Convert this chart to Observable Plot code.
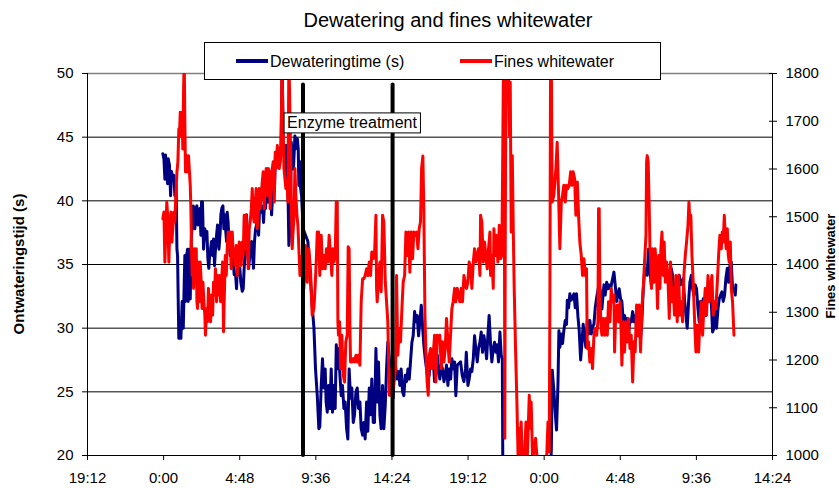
<!DOCTYPE html>
<html>
<head>
<meta charset="utf-8">
<script src="https://cdn.jsdelivr.net/npm/d3@7"></script>
<script src="https://cdn.jsdelivr.net/npm/@observablehq/plot@0.6"></script>
<style>
  body { margin: 0; background: #fff; }
  #chart { width: 839px; height: 488px; }
</style>
</head>
<body>
<div id="chart"></div>
<script>
const FONT = '"Liberation Sans", Arial, Helvetica, sans-serif';

// ---- texts ----
const chartTitle = "Dewatering and fines whitewater";
const leftAxisTitle = "Ontwateringstijd (s)";
const rightAxisTitle = "Fines whitewater";
const seriesNames = ["Dewateringtime (s)", "Fines whitewater"];
const seriesColors = ["#000080", "#ff0000"];

// ---- axes (time in hours since midnight of day 1) ----
const xDomain = [19.2, 62.4];
const xTickHours = [19.2, 24, 28.8, 33.6, 38.4, 43.2, 48, 52.8, 57.6, 62.4];
const xTickLabels = ["19:12", "0:00", "4:48", "9:36", "14:24", "19:12", "0:00", "4:48", "9:36", "14:24"];
const leftDomain = [20, 50];
const leftTicks = [20, 25, 30, 35, 40, 45, 50];
const finesDomain = [1000, 1800];
const finesTicks = [1000, 1100, 1200, 1300, 1400, 1500, 1600, 1700, 1800];

// ---- annotation ----
const enzymeHours = [32.79, 38.44];
const enzymeLineTop = 49.1;
const enzymeLabel = [{hour: 35.88, value: 46.09, text: "Enzyme treatment"}];

// ---- series: [hour, dewatering time (s)] ----
const dewatering = [
[23.95,43.7],[24.02,43.3],[24.08,41.7],[24.12,43.6],[24.18,42.5],[24.25,41.35],[24.29,43.3],[24.37,42.8],[24.44,40.4],[24.50,42.3],[24.58,41.7],[24.65,42.0],[24.71,40.4],[24.75,41.5],[24.79,41.2],[24.84,36.2],[24.88,35.7],[24.92,32.3],[24.96,29.2],[25.02,30.0],[25.09,29.2],[25.17,32.1],[25.24,30.0],[25.30,33.6],[25.34,35.7],[25.38,32.1],[25.45,35.7],[25.51,36.2],[25.55,32.1],[25.61,36.2],[25.68,32.3],[25.74,36.8],[25.80,38.1],[25.87,39.6],[25.93,38.9],[25.97,37.8],[26.03,39.4],[26.10,39.6],[26.16,38.1],[26.22,38.9],[26.29,39.4],[26.35,37.3],[26.39,39.9],[26.45,39.9],[26.52,36.2],[26.60,37.8],[26.66,37.0],[26.73,37.6],[26.79,35.5],[26.85,34.7],[26.90,35.7],[26.96,36.2],[27.02,36.8],[27.09,35.7],[27.15,37.0],[27.21,34.9],[27.27,36.2],[27.34,37.3],[27.40,38.1],[27.44,36.8],[27.49,36.2],[27.57,37.6],[27.61,38.9],[27.67,39.4],[27.74,39.6],[27.80,37.8],[27.86,38.9],[27.91,37.8],[27.97,36.8],[28.01,39.1],[28.07,38.3],[28.12,36.8],[28.20,35.7],[28.28,36.8],[28.37,35.7],[28.45,34.2],[28.54,34.2],[28.60,33.1],[28.66,35.2],[28.75,34.2],[28.81,34.7],[28.87,33.6],[28.96,32.9],[29.02,33.1],[29.08,34.7],[29.13,35.7],[29.17,37.8],[29.23,38.9],[29.29,37.3],[29.36,34.7],[29.42,35.5],[29.48,35.7],[29.55,36.8],[29.61,35.7],[29.67,34.7],[29.73,36.8],[29.80,37.8],[29.86,38.1],[29.92,38.9],[29.99,37.3],[30.05,39.4],[30.11,39.1],[30.18,39.4],[30.24,39.6],[30.30,38.3],[30.37,39.9],[30.43,39.4],[30.49,41.0],[30.55,39.9],[30.64,39.9],[30.68,40.2],[30.74,41.0],[30.81,38.9],[30.85,39.9],[30.93,41.0],[30.99,41.0],[31.06,43.8],[31.12,43.1],[31.19,43.6],[31.27,44.1],[31.33,43.1],[31.40,44.35],[31.44,47.8],[31.48,51],[31.54,44.35],[31.61,43.6],[31.67,44.35],[31.71,41.7],[31.77,44.35],[31.84,41.0],[31.90,36.5],[31.94,37.3],[32.01,40.4],[32.05,44.6],[32.11,43.6],[32.19,42.5],[32.28,45.1],[32.36,44.1],[32.43,44.9],[32.49,44.1],[32.53,41.2],[32.57,43.1],[32.64,41.0],[32.70,40.4],
[32.80,37.8],[32.95,37.3],[33.10,36.8],[33.22,34.7],[33.35,32.1],[33.48,30.0],[33.58,26.8],[33.69,24.7],[33.79,22.1],[33.85,22.25],[33.94,25.5],[34.02,27.6],[34.11,25.3],[34.19,26.8],[34.25,24.2],[34.32,23.4],[34.40,25.5],[34.49,23.7],[34.57,26.8],[34.65,23.4],[34.74,25.5],[34.82,23.7],[34.89,28.7],[34.95,26.8],[35.03,28.4],[35.12,26.3],[35.20,24.7],[35.28,25.5],[35.37,23.7],[35.45,24.2],[35.54,22.1],[35.62,21.3],[35.70,26.8],[35.79,24.5],[35.87,25.3],[35.96,22.6],[36.04,23.2],[36.13,25.0],[36.21,25.3],[36.29,23.7],[36.38,24.2],[36.46,22.1],[36.55,21.6],[36.63,22.6],[36.71,21.3],[36.80,24.2],[36.88,21.9],[36.97,25.3],[37.05,23.2],[37.13,26.0],[37.22,22.6],[37.30,22.6],[37.39,28.4],[37.47,24.2],[37.55,27.35],[37.64,23.2],[37.72,22.1],[37.81,25.5],[37.89,22.1],[37.98,24.0],[38.06,26.8],[38.14,28.9],[38.23,27.6],[38.35,26.8],[38.48,24.5],[38.56,27.35],[38.65,26.8],[38.73,26.0],[38.82,26.6],[38.90,25.5],[38.98,26.8],[39.07,25.0],[39.15,24.7],[39.24,26.3],[39.32,25.8],[39.41,26.8],[39.49,26.0],[39.57,27.35],[39.66,28.9],[39.74,29.4],[39.83,31.3],[39.91,30.5],[39.99,31.0],[40.08,29.4],[40.16,30.5],[40.25,31.8],[40.33,30.2],[40.41,28.7],[40.50,27.6],[40.58,26.8],[40.67,26.0],[40.75,26.3],[40.84,28.1],[40.92,27.35],[41.00,27.6],[41.09,25.8],[41.17,26.3],[41.26,27.9],[41.34,26.8],[41.42,26.0],[41.51,27.1],[41.59,26.8],[41.68,25.8],[41.76,26.3],[41.84,27.1],[41.93,25.5],[42.01,26.8],[42.10,26.0],[42.18,27.6],[42.27,26.8],[42.35,27.35],[42.43,24.7],[42.52,27.1],
[42.73,27.35],[42.83,26.3],[42.94,25.8],[43.04,26.8],[43.09,28.1],[43.19,25.5],[43.27,26.0],[43.36,26.8],[43.44,26.6],[43.53,27.6],[43.61,29.4],[43.69,28.4],[43.78,27.35],[43.86,28.4],[43.95,28.9],[44.03,29.7],[44.11,28.1],[44.20,29.4],[44.28,28.7],[44.37,27.6],[44.45,29.4],[44.53,31.0],[44.62,28.7],[44.70,27.35],[44.79,28.4],[44.87,28.9],[44.96,28.1],[45.04,28.7],[45.12,27.35],[45.21,29.7],[45.29,27.9],[45.36,27.6],[45.40,17],[48.34,17],
[48.45,20.4],[48.51,26.7],[48.61,25.1],[48.72,23.0],[48.78,22.0],[48.87,25.6],[48.93,29.8],[48.99,28.5],[49.08,29.55],[49.16,28.8],[49.24,29.8],[49.33,30.6],[49.41,30.3],[49.46,32.2],[49.54,31.6],[49.62,32.7],[49.71,32.2],[49.79,32.4],[49.88,32.7],[49.96,31.6],[50.04,32.7],[50.13,30.9],[50.21,29.8],[50.30,27.5],[50.38,28.8],[50.46,30.3],[50.55,29.3],[50.63,28.5],[50.72,30.6],[50.80,29.55],[50.88,30.6],[50.97,29.55],[51.05,30.1],[51.14,30.3],[51.22,31.6],[51.31,32.4],[51.39,32.95],[51.47,33.5],[51.56,32.7],
[51.64,31.5],[51.77,33.4],[51.85,32.6],[51.94,33.6],[52.02,33.1],[52.10,33.4],[52.19,33.1],[52.27,33.6],[52.36,34.15],[52.40,34.4],[52.48,33.4],[52.57,32.1],[52.65,32.6],[52.73,33.1],[52.82,32.3],[52.90,32.1],[52.99,30.5],[53.07,31.0],[53.15,30.5],[53.24,30.75],[53.32,29.7],[53.41,30.5],[53.49,30.5],[53.58,31.3],[53.66,30.5],[53.74,31.0],[53.83,30.0],[53.91,29.4],[53.99,29.7],[54.08,29.2],[54.16,30.5],[54.25,33.1],[54.33,34.4],[54.42,34.7],[54.50,34.15],[54.58,36.2],[54.67,34.7],[54.75,33.4],[54.84,33.6],[54.92,34.15],[55.00,35.7],[55.09,35.2],[55.17,33.6],[55.26,34.7],[55.34,35.2],[55.43,34.7],[55.51,35.7],[55.59,35.2],[55.68,34.7],[55.76,34.4],[55.85,34.15],[55.93,33.6],[56.01,34.7],[56.10,34.15],[56.18,33.1],[56.27,32.1],[56.35,32.6],[56.43,33.6],[56.52,34.15],[56.60,33.4],[56.69,33.6],[56.77,33.9],[56.86,32.1],[56.94,31.0],[57.02,30.0],[57.11,32.1],[57.19,33.6],[57.28,34.15],[57.36,33.1],[57.44,32.6],[57.53,33.4],[57.61,33.1],[57.70,31.5],[57.78,30.5],[57.86,32.1],[57.95,31.5],[58.03,32.3],[58.12,31.5],[58.20,31.0],[58.29,33.1],[58.37,32.6],[58.45,33.6],[58.54,32.1],[58.62,29.7],[58.71,30.0],[58.79,31.3],[58.87,30.0],[58.96,31.5],[59.04,32.3],[59.13,32.6],[59.21,32.85],[59.29,32.1],[59.38,32.6],[59.46,33.9],[59.55,34.7],[59.63,33.6],[59.71,34.9],[59.80,35.2],[59.88,33.1],[59.97,33.1],[60.05,32.6],[60.09,33.4]
];

// ---- series: [hour, fines whitewater] ----
const fines = [
[23.95,1496],[24.02,1510],[24.08,1405],[24.14,1475],[24.20,1531],[24.27,1496],[24.33,1405],[24.39,1475],[24.46,1510],[24.52,1447],[24.58,1475],[24.65,1510],[24.71,1489],[24.77,1545],[24.84,1594],[24.90,1615],[24.96,1684],[25.00,1670],[25.05,1719],[25.11,1670],[25.17,1719],[25.21,1642],[25.26,1768],[25.30,1830],[25.34,1698],[25.38,1594],[25.42,1615],[25.47,1628],[25.51,1594],[25.57,1628],[25.63,1594],[25.68,1566],[25.72,1517],[25.76,1433],[25.80,1377],[25.85,1433],[25.89,1350],[25.93,1433],[25.97,1377],[26.01,1363],[26.06,1433],[26.10,1322],[26.14,1308],[26.18,1405],[26.24,1322],[26.31,1405],[26.37,1363],[26.43,1308],[26.48,1363],[26.54,1322],[26.60,1294],[26.64,1252],[26.71,1308],[26.77,1280],[26.83,1350],[26.90,1294],[26.96,1280],[27.02,1336],[27.09,1294],[27.15,1363],[27.21,1336],[27.27,1391],[27.34,1322],[27.40,1377],[27.46,1336],[27.53,1377],[27.59,1322],[27.65,1363],[27.72,1405],[27.78,1259],[27.82,1322],[27.89,1419],[27.95,1377],[28.01,1433],[28.07,1468],[28.14,1433],[28.20,1468],[28.26,1391],[28.33,1468],[28.39,1419],[28.45,1433],[28.52,1398],[28.58,1440],[28.64,1377],[28.71,1419],[28.77,1447],[28.83,1419],[28.89,1398],[28.96,1447],[29.02,1419],[29.08,1503],[29.15,1433],[29.21,1503],[29.27,1447],[29.34,1391],[29.40,1475],[29.46,1489],[29.53,1517],[29.59,1559],[29.65,1503],[29.71,1489],[29.78,1531],[29.84,1559],[29.90,1475],[29.97,1503],[30.03,1559],[30.09,1517],[30.16,1545],[30.22,1573],[30.28,1594],[30.35,1517],[30.41,1580],[30.47,1601],[30.54,1545],[30.60,1601],[30.66,1594],[30.72,1517],[30.79,1587],[30.85,1601],[30.91,1615],[30.98,1531],[31.04,1635],[31.10,1601],[31.17,1649],[31.23,1628],[31.29,1601],[31.36,1615],[31.42,1649],[31.46,1830],[31.52,1719],[31.59,1601],[31.65,1580],[31.71,1559],[31.78,1573],[31.84,1531],[31.90,1830],[31.94,1768],[31.99,1670],[32.05,1531],[32.11,1433],[32.15,1461],[32.22,1496],[32.28,1601],[32.34,1545],[32.41,1503],[32.47,1482],[32.53,1433],[32.60,1377],[32.66,1391],
[32.74,1419],[32.85,1350],[32.95,1440],[33.06,1363],[33.16,1433],[33.27,1384],[33.37,1294],[33.48,1308],[33.56,1356],[33.64,1419],[33.69,1468],[33.77,1468],[33.85,1377],[33.94,1461],[34.02,1391],[34.11,1419],[34.19,1391],[34.27,1433],[34.36,1405],[34.44,1461],[34.53,1419],[34.61,1377],[34.67,1433],[34.74,1405],[34.82,1419],[34.89,1531],[34.95,1531],[34.99,1280],[35.03,1252],[35.10,1280],[35.16,1182],[35.24,1252],[35.33,1168],[35.41,1154],[35.49,1238],[35.58,1252],[35.64,1437],[35.70,1433],[35.75,1266],[35.79,1196],[35.87,1196],[35.96,1203],[36.04,1196],[36.13,1210],[36.21,1196],[36.29,1210],[36.38,1189],[36.46,1322],[36.55,1370],[36.63,1370],[36.71,1377],[36.80,1391],[36.88,1377],[36.97,1405],[37.05,1377],[37.13,1426],[37.22,1412],[37.30,1419],[37.39,1503],[37.43,1350],[37.47,1322],[37.55,1363],[37.64,1405],[37.72,1343],[37.81,1503],[37.89,1489],[37.98,1363],[38.06,1322],[38.14,1280],[38.23,1126],[38.31,1126],[38.40,1182],[38.48,1140],[38.63,1182],[38.69,1377],[38.77,1210],[38.86,1266],[38.94,1238],[39.03,1308],[39.11,1363],[39.20,1377],[39.28,1468],[39.36,1419],[39.45,1468],[39.53,1384],[39.62,1468],[39.70,1412],[39.78,1468],[39.87,1461],[39.95,1468],[40.04,1433],[40.12,1475],[40.20,1489],[40.27,1601],[40.35,1627],[40.41,1517],[40.48,1294],[40.54,1217],[40.62,1154],[40.69,1126],[40.75,1210],[40.84,1224],[40.92,1182],[41.00,1210],[41.09,1252],[41.17,1154],[41.26,1252],[41.34,1238],[41.42,1252],[41.51,1182],[41.59,1238],[41.68,1196],[41.76,1224],[41.84,1287],[41.93,1238],[42.01,1196],
[42.18,1308],[42.26,1322],[42.35,1350],[42.43,1322],[42.52,1350],[42.60,1336],[42.68,1322],[42.77,1350],[42.85,1322],[42.94,1377],[43.02,1363],[43.10,1350],[43.19,1363],[43.27,1405],[43.36,1391],[43.44,1350],[43.53,1405],[43.61,1433],[43.69,1405],[43.78,1419],[43.86,1433],[43.95,1377],[43.99,1503],[44.07,1489],[44.16,1405],[44.24,1447],[44.32,1419],[44.41,1391],[44.49,1433],[44.58,1468],[44.62,1377],[44.70,1419],[44.79,1350],[44.83,1475],[44.91,1419],[45.00,1461],[45.08,1405],[45.17,1482],[45.25,1412],[45.33,1419],[45.38,1601],[45.42,1768],[45.46,1830],[45.50,1391],[45.52,1036],[45.54,1391],[45.59,1830],[45.67,1782],[45.73,1830],[45.80,1670],[45.86,1782],[45.92,1468],[45.99,1628],[46.05,1475],[46.11,1350],[46.20,1217],[46.28,1112],[46.36,990],[46.43,1057],[46.49,990],[46.55,1070],[46.62,990],[46.76,990],[46.85,1070],[46.93,990],[47.06,1126],[47.12,1057],[47.18,1112],[47.27,990],[47.46,1036],[47.56,990],[48.15,990],[48.24,1070],[48.32,1008],[48.36,1322],[48.40,1782],[48.45,1830],[48.51,1531],[48.61,1545],[48.74,1601],[48.82,1656],[48.91,1545],[48.99,1433],[49.08,1531],[49.16,1545],[49.24,1566],[49.33,1531],[49.41,1566],[49.50,1559],[49.58,1566],[49.67,1594],[49.75,1566],[49.83,1594],[49.92,1580],[50.00,1503],[50.09,1573],[50.17,1503],[50.25,1447],[50.34,1419],[50.42,1377],[50.51,1412],[50.59,1377],[50.67,1391],[50.72,1224],[50.80,1238],[50.88,1196],[50.97,1224],[51.05,1182],[51.14,1252],[51.22,1266],[51.31,1252],[51.39,1280],[51.43,1517],[51.47,1517],[51.52,1322],[51.60,1266],
[51.64,1252],[51.73,1287],[51.81,1252],[51.89,1287],[51.98,1252],[52.06,1322],[52.15,1280],[52.23,1350],[52.31,1322],[52.40,1336],[52.44,1217],[52.51,1294],[52.61,1315],[52.69,1280],[52.78,1322],[52.86,1252],[52.90,1189],[52.99,1280],[53.07,1217],[53.15,1280],[53.24,1238],[53.32,1287],[53.41,1224],[53.49,1252],[53.58,1154],[53.66,1238],[53.74,1217],[53.83,1315],[53.91,1252],[53.99,1315],[54.08,1217],[54.16,1308],[54.25,1350],[54.33,1405],[54.42,1461],[54.46,1615],[54.50,1628],[54.56,1615],[54.63,1510],[54.67,1433],[54.71,1419],[54.77,1350],[54.84,1433],[54.92,1363],[55.00,1433],[55.09,1377],[55.15,1308],[55.22,1419],[55.30,1350],[55.36,1433],[55.43,1468],[55.51,1377],[55.57,1447],[55.64,1363],[55.72,1405],[55.80,1377],[55.89,1287],[55.97,1405],[56.06,1322],[56.14,1350],[56.22,1294],[56.31,1377],[56.39,1280],[56.48,1377],[56.56,1294],[56.65,1322],[56.73,1280],[56.81,1377],[56.90,1419],[56.98,1447],[57.07,1482],[57.13,1531],[57.19,1489],[57.25,1503],[57.32,1419],[57.40,1363],[57.49,1280],[57.57,1217],[57.65,1273],[57.74,1217],[57.82,1280],[57.91,1322],[57.99,1252],[58.07,1308],[58.16,1350],[58.24,1294],[58.33,1377],[58.41,1322],[58.49,1350],[58.58,1377],[58.66,1294],[58.75,1322],[58.83,1308],[58.92,1363],[59.00,1419],[59.08,1461],[59.17,1433],[59.23,1468],[59.29,1447],[59.36,1503],[59.42,1461],[59.48,1433],[59.55,1475],[59.61,1419],[59.67,1405],[59.74,1447],[59.80,1350],[59.88,1322],[59.97,1252]
];

// map the secondary (fines) axis onto the primary y scale
const toLeft = v => leftDomain[0] + (v - finesDomain[0]) * (leftDomain[1] - leftDomain[0]) / (finesDomain[1] - finesDomain[0]);
const fromLeft = y => finesDomain[0] + (y - leftDomain[0]) * (finesDomain[1] - finesDomain[0]) / (leftDomain[1] - leftDomain[0]);

const svg = Plot.plot({
  width: 839,
  height: 488,
  marginLeft: 87,
  marginRight: 67,
  marginTop: 73,
  marginBottom: 33,
  style: {fontFamily: FONT, fontSize: "15px", color: "#000", background: "#fff"},
  x: {domain: xDomain},
  y: {domain: leftDomain},
  marks: [
    Plot.ruleY(leftTicks.slice(1, -1), {stroke: "#000", strokeWidth: 1}),
    Plot.ruleY([leftDomain[1]], {stroke: "#808080", strokeWidth: 1.5}),
    Plot.line(dewatering, {x: d => d[0], y: d => d[1], stroke: seriesColors[0], strokeWidth: 3, clip: true}),
    Plot.line(fines, {x: d => d[0], y: d => toLeft(d[1]), stroke: seriesColors[1], strokeWidth: 3, clip: true}),
    Plot.ruleX(enzymeHours, {y1: leftDomain[0], y2: enzymeLineTop, stroke: "#000", strokeWidth: 4, strokeLinecap: "round"}),
    Plot.text(enzymeLabel, {x: "hour", y: "value", text: "text", fontSize: 16, fill: "#000", textAnchor: "middle", lineAnchor: "middle"}),
    Plot.axisY({anchor: "left", ticks: leftTicks, tickSize: 5, tickPadding: 9, label: null}),
    Plot.axisY({anchor: "right", ticks: finesTicks.map(toLeft), tickFormat: v => String(Math.round(fromLeft(v))), tickSize: 4, tickPadding: 9, label: null}),
    Plot.axisY({anchor: "right", ticks: finesTicks.map(toLeft), tickFormat: () => "", tickSize: -4, tickPadding: 0, label: null}),
    Plot.axisX({ticks: xTickHours, tickFormat: d => xTickLabels[xTickHours.indexOf(d)], tickSize: 5, tickPadding: 12, label: null}),
    Plot.ruleX([xDomain[0]], {stroke: "#000", strokeWidth: 1}),
    Plot.ruleX([xDomain[1]], {stroke: "#000", strokeWidth: 1}),
    Plot.ruleY([leftDomain[0]], {stroke: "#000", strokeWidth: 1})
  ]
});

document.getElementById("chart").appendChild(svg);

const s = d3.select(svg);

// white box behind the annotation text
s.selectAll('g[aria-label="text"] text').each(function () {
  const bb = this.getBBox();
  const padX = 3, padY = 1.5;
  d3.select(this.parentNode).insert("rect", () => this)
    .attr("x", bb.x - padX).attr("y", bb.y - padY)
    .attr("width", bb.width + 2 * padX).attr("height", bb.height + 2 * padY)
    .attr("transform", this.getAttribute("transform"))
    .attr("fill", "#fff").attr("stroke", "#000").attr("stroke-width", 1);
});

// title
s.append("text")
  .attr("x", 448).attr("y", 26.7)
  .attr("text-anchor", "middle")
  .style("font-family", FONT).style("font-size", "20px").attr("fill", "#000")
  .text(chartTitle);

// axis titles
s.append("text")
  .attr("transform", "translate(24,264) rotate(-90)")
  .attr("text-anchor", "middle")
  .style("font-family", FONT).style("font-size", "15px").style("font-weight", "bold").attr("fill", "#000")
  .text(leftAxisTitle);
s.append("text")
  .attr("transform", "translate(835,266) rotate(-90)")
  .attr("text-anchor", "middle")
  .style("font-family", FONT).style("font-size", "13px").style("font-weight", "bold").attr("fill", "#000")
  .text(rightAxisTitle);

// legend
const lg = s.append("g");
lg.append("rect").attr("x", 204.5).attr("y", 42.5).attr("width", 456).attr("height", 37)
  .attr("fill", "#fff").attr("stroke", "#000").attr("stroke-width", 1);
const legendX = [236, 460];
seriesNames.forEach((name, i) => {
  lg.append("line").attr("x1", legendX[i]).attr("x2", legendX[i] + 32).attr("y1", 61).attr("y2", 61)
    .attr("stroke", seriesColors[i]).attr("stroke-width", 4);
  lg.append("text").attr("x", legendX[i] + 34).attr("y", 66.5)
    .attr("text-anchor", "start")
    .style("font-family", FONT).style("font-size", "16px").attr("fill", "#000")
    .text(name);
});
</script>
</body>
</html>
